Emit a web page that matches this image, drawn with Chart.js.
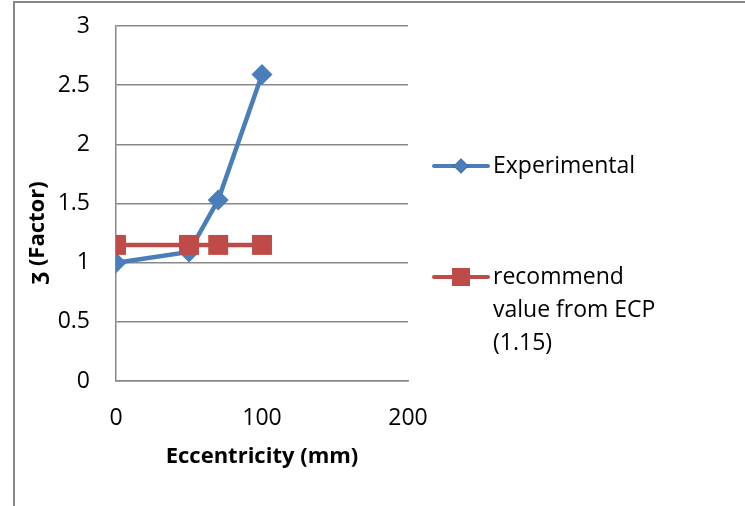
<!DOCTYPE html>
<html>
<head>
<meta charset="utf-8">
<script src="https://cdn.jsdelivr.net/npm/chart.js@4"></script>
<style>
html,body{margin:0;padding:0;background:#fff;}
#wrap{width:745px;height:506px;position:relative;}
</style>
</head>
<body>
<div id="wrap"><canvas id="c" width="745" height="506"></canvas></div>
<script>
// ---- data ----
const eccentricity = [0, 50, 70, 100];
const experimental = [1.00, 1.09, 1.53, 2.59];
const ecpValue = [1.15, 1.15, 1.15, 1.15];
const seriesNames = ['Experimental', 'recommend value from ECP (1.15)'];
const legendLines = [['Experimental'], ['recommend', 'value from ECP', '(1.15)']];
const xTickValues = [0, 100, 200];
const yTickValues = [0, 0.5, 1, 1.5, 2, 2.5, 3];
const xTitle = 'Eccentricity (mm)';
const yTitle = 'ʒ (Factor)';

const FONT = "'Open Sans', 'Noto Sans', sans-serif";
const GRID = '#878787';
const BLUE = '#4a7ebb';
const RED = '#be4b48';

const toXY = (xs, ys) => xs.map((x, i) => ({x: x, y: ys[i]}));

const framePlugin = {
  id: 'frame',
  beforeDraw(chart) {
    const ctx = chart.ctx;
    ctx.save();
    ctx.fillStyle = '#fff';
    ctx.fillRect(0, 0, chart.width, chart.height);
    ctx.strokeStyle = GRID;
    ctx.lineWidth = 2;
    ctx.beginPath();
    ctx.moveTo(14, 506);
    ctx.lineTo(14, 2);
    ctx.lineTo(745, 2);
    ctx.stroke();
    ctx.restore();
  },
  afterDraw(chart) {
    // y-axis title, placed like the original (a little below the plot centre)
    const ctx = chart.ctx;
    ctx.save();
    ctx.translate(38, 233);
    ctx.rotate(-Math.PI / 2);
    ctx.fillStyle = '#000';
    ctx.font = 'bold 22px ' + FONT;
    ctx.textAlign = 'center';
    ctx.textBaseline = 'middle';
    ctx.fillText(yTitle, 0, 0);
    ctx.restore();
  }
};

const legendPlugin = {
  id: 'sideLegend',
  afterDraw(chart) {
    const ctx = chart.ctx;
    const rows = [166, 277];
    const sizes = [7.5, 12.7];
    ctx.save();
    chart.data.datasets.forEach((ds, i) => {
      const y = rows[i];
      ctx.strokeStyle = ds.borderColor;
      ctx.lineWidth = 4;
      ctx.lineCap = 'round';
      ctx.beginPath();
      ctx.moveTo(434, y);
      ctx.lineTo(488, y);
      ctx.stroke();
      Chart.helpers.drawPoint(ctx, {pointStyle: ds.pointStyle, radius: sizes[i], borderWidth: 0, rotation: 0}, 461, y);
      ctx.fillStyle = ds.pointBackgroundColor;
      ctx.fill();
      ctx.fillStyle = '#000';
      ctx.font = '23px ' + FONT;
      ctx.textBaseline = 'middle';
      ctx.textAlign = 'left';
      legendLines[i].forEach((t, j) => ctx.fillText(t, 493, y + j * 33));
    });
    ctx.restore();
  }
};

new Chart(document.getElementById('c'), {
  type: 'line',
  data: {
    datasets: [
      {
        label: seriesNames[0],
        data: toXY(eccentricity, experimental),
        borderColor: BLUE,
        backgroundColor: BLUE,
        pointBackgroundColor: BLUE,
        pointBorderWidth: 0,
        borderWidth: 4.5,
        pointStyle: 'rectRot',
        pointRadius: 10.5,
        order: 2
      },
      {
        label: seriesNames[1],
        data: toXY(eccentricity, ecpValue),
        borderColor: RED,
        backgroundColor: RED,
        pointBackgroundColor: RED,
        pointBorderWidth: 0,
        borderWidth: 4.5,
        pointStyle: 'rect',
        pointRadius: 14.1,
        order: 1
      }
    ]
  },
  options: {
    responsive: false,
    animation: false,
    events: [],
    layout: {padding: {left: 0, top: 26, right: 337, bottom: 0}},
    plugins: {legend: {display: false}, tooltip: {enabled: false}},
    elements: {line: {tension: 0}},
    scales: {
      x: {
        type: 'linear',
        min: 0, max: 200,
        afterBuildTicks(s) { s.ticks = xTickValues.map(v => ({value: v})); },
        afterFit(s) { s.height = 125; s.paddingRight = 0; s.paddingLeft = 0; },
        grid: {display: false, drawTicks: false},
        border: {display: true, color: GRID, width: 1.5},
        ticks: {padding: 24, color: '#000', font: {family: FONT, size: 23}, maxRotation: 0, callback: v => String(v)},
        title: {display: true, text: xTitle, color: '#000', font: {family: FONT, size: 22, weight: 'bold'}, padding: {top: 0, bottom: 36}}
      },
      y: {
        type: 'linear',
        min: 0, max: 3,
        afterBuildTicks(s) { s.ticks = yTickValues.map(v => ({value: v})); },
        afterFit(s) { s.width = 116; s.paddingTop = 0; s.paddingBottom = 0; },
        grid: {color: GRID, lineWidth: 1.5, drawTicks: false},
        border: {display: true, color: GRID, width: 1.5},
        ticks: {padding: 26, color: '#000', font: {family: FONT, size: 23}, callback: v => String(v)},
        title: {display: false}
      }
    }
  },
  plugins: [framePlugin, legendPlugin]
});
</script>
</body>
</html>
